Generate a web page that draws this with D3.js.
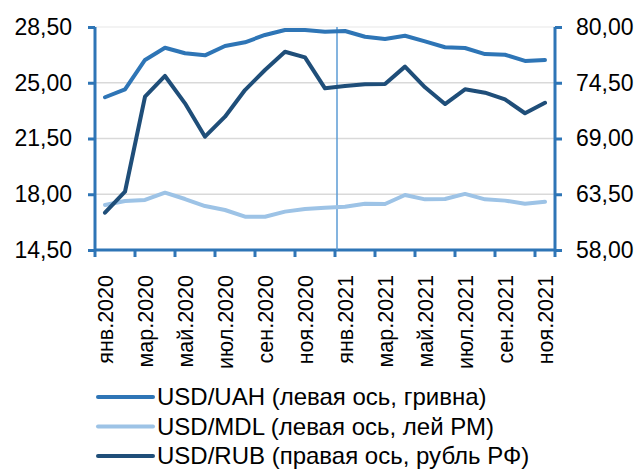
<!DOCTYPE html>
<html><head><meta charset="utf-8">
<script src="https://cdn.jsdelivr.net/npm/d3@7"></script>
<style>
html,body{margin:0;padding:0;background:#fff;}
svg{display:block;font-family:"Liberation Sans",Arial,sans-serif;}
</style></head>
<body><svg id="chart" width="638" height="469"></svg>
<script>
const months = ["янв.2020","фев.2020","мар.2020","апр.2020","май.2020","июн.2020","июл.2020","авг.2020","сен.2020","окт.2020","ноя.2020","дек.2020",
"янв.2021","фев.2021","мар.2021","апр.2021","май.2021","июн.2021","июл.2021","авг.2021","сен.2021","окт.2021","ноя.2021"];
const uah = [24.09,24.59,26.43,27.20,26.85,26.72,27.31,27.54,28.00,28.31,28.31,28.20,28.25,27.89,27.75,27.95,27.60,27.23,27.18,26.80,26.76,26.37,26.43];
const mdl = [17.33,17.58,17.64,18.10,17.70,17.26,17.01,16.59,16.59,16.91,17.08,17.15,17.22,17.41,17.39,17.95,17.68,17.70,18.02,17.68,17.60,17.41,17.53];
const rub = [61.68,63.75,73.12,75.17,72.47,69.18,71.15,73.78,75.76,77.56,77.01,73.95,74.18,74.35,74.38,76.09,74.05,72.40,73.85,73.52,72.86,71.49,72.53];
const leftTicks = [14.5,18,21.5,25,28.5];
const rightTicks = [58,63.5,69,74.5,80];
const markerMonth = "янв.2021";
const legendLabels = ["USD/UAH (левая ось, гривна)","USD/MDL (левая ось, лей РМ)","USD/RUB (правая ось, рубль РФ)"];
const colors = ["#2e75b6","#9dc3e6","#1f4e79"];
const axisColor = "#2e75b6";

const svg = d3.select("#chart");
const m = {l:95, r:555, t:27, b:250};
const x = d3.scaleBand().domain(months).range([m.l, m.r]).paddingInner(0).paddingOuter(0);
const yL = d3.scaleLinear().domain([14.5,28.5]).range([m.b, m.t]);
const yR = d3.scaleLinear().domain([58,80]).range([m.b, m.t]);
const fmt = v => d3.format(".2f")(v).replace(".", ",");

// gridlines
svg.append("g").selectAll("line").data(leftTicks.slice(1)).join("line")
  .attr("x1", m.l).attr("x2", m.r).attr("y1", d=>yL(d)).attr("y2", d=>yL(d))
  .attr("stroke", (d,i)=> i===leftTicks.length-2 ? "#efefef" : "#d9d9d9").attr("stroke-width",1.5);

// left axis
const gl = svg.append("g").attr("transform",`translate(${m.l},0)`)
  .call(d3.axisLeft(yL).tickValues(leftTicks).tickFormat(fmt).tickSize(7).tickPadding(16));
// right axis
const gr = svg.append("g").attr("transform",`translate(${m.r},0)`)
  .call(d3.axisRight(yR).tickValues(rightTicks).tickFormat(fmt).tickSize(7).tickPadding(14));
// bottom axis: ticks every 2 categories
const bTicks = d3.range(0, months.length, 2).map(i => x(months[i])).concat([m.r]);
const gb = svg.append("g");
gb.append("line").attr("x1",m.l).attr("x2",m.r).attr("y1",m.b).attr("y2",m.b).attr("stroke",axisColor).attr("stroke-width",3);
gb.selectAll("line.t").data(bTicks).join("line").attr("class","t")
  .attr("x1",d=>d).attr("x2",d=>d).attr("y1",m.b).attr("y2",m.b+7).attr("stroke",axisColor).attr("stroke-width",3);
gb.selectAll("text").data(months.filter((d,i)=>i%2===0)).join("text")
  .attr("transform", d=>`translate(${x(d)+x.bandwidth()/2},${m.b+25}) rotate(-90)`)
  .attr("text-anchor","end").attr("dy","0.35em").attr("font-size",21.5).attr("fill","#000").text(d=>d);

[gl,gr].forEach(g=>{
  g.select(".domain").attr("stroke",axisColor).attr("stroke-width",3);
  g.selectAll(".tick line").attr("stroke",axisColor).attr("stroke-width",3);
  g.selectAll(".tick text").attr("font-size",23).attr("fill","#000").attr("font-family","Liberation Sans, Arial, sans-serif");
});
gl.select(".domain").attr("d", `M0,${m.t}V${m.b}`);
gr.select(".domain").attr("d", `M0,${m.t}V${m.b}`);

// marker vertical line
svg.append("line").attr("x1", x(markerMonth)+2).attr("x2", x(markerMonth)+2)
  .attr("y1", m.t).attr("y2", m.b).attr("stroke","#5b9bd5").attr("stroke-width",1.5);

const cx = d => x(d)+x.bandwidth()/2;
const lineL = d3.line().x((d,i)=>cx(months[i])).y(d=>yL(d));
const lineR = d3.line().x((d,i)=>cx(months[i])).y(d=>yR(d));
[[mdl,lineL,colors[1]],[uah,lineL,colors[0]],[rub,lineR,colors[2]]].forEach(([data,gen,c])=>{
  svg.append("path").datum(data).attr("d",gen).attr("fill","none").attr("stroke",c)
    .attr("stroke-width",4).attr("stroke-linejoin","round").attr("stroke-linecap","round");
});

// legend
const lg = svg.append("g");
legendLabels.forEach((t,i)=>{
  const yy = 397 + i*29.5;
  lg.append("line").attr("x1",98).attr("x2",153).attr("y1",yy).attr("y2",yy)
    .attr("stroke",colors[i]).attr("stroke-width",4).attr("stroke-linecap","round");
  lg.append("text").attr("x",157).attr("y",yy).attr("dy","0.35em").attr("font-size",24).attr("fill","#000").text(t);
});
</script></body></html>
